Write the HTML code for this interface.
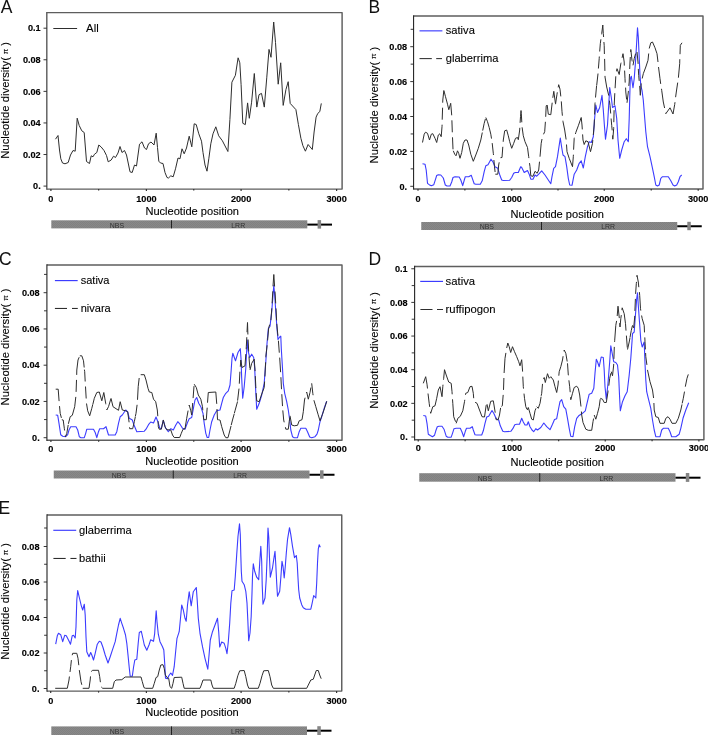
<!DOCTYPE html>
<html><head><meta charset="utf-8"><title>Nucleotide diversity</title>
<style>html,body{margin:0;padding:0;background:#fff;}svg{display:block;}text{font-family:'Liberation Sans', sans-serif;}</style></head><body>
<svg width="708" height="735" viewBox="0 0 708 735">
<defs><pattern id="hatch" width="2" height="2" patternUnits="userSpaceOnUse"><rect width="2" height="2" fill="#898989"/><path d="M0,0 L2,2" stroke="#7c7c7c" stroke-width="0.6"/></pattern></defs>
<rect width="708" height="735" fill="#fff"/>
<path d="M46.8,189.1 L342.1,189.1 L342.1,12.6 L46.8,12.6" fill="none" stroke="#5e5e5e" stroke-width="1.45" stroke-linejoin="round"/>
<line x1="46.8" y1="11.9" x2="46.8" y2="189.8" stroke="#5e5e5e" stroke-width="1.45"/>
<line x1="43.5" y1="186.1" x2="46.8" y2="186.1" stroke="#222" stroke-width="0.9"/>
<text x="40.7" y="189.3" text-anchor="end" font-size="9.9" font-weight="bold" fill="#000" stroke="#000" stroke-width="0.15" textLength="7.63" lengthAdjust="spacingAndGlyphs">0.</text>
<line x1="43.5" y1="154.52" x2="46.8" y2="154.52" stroke="#222" stroke-width="0.9"/>
<text x="40.7" y="157.72" text-anchor="end" font-size="9.9" font-weight="bold" fill="#000" stroke="#000" stroke-width="0.15" textLength="17.81" lengthAdjust="spacingAndGlyphs">0.02</text>
<line x1="43.5" y1="122.94" x2="46.8" y2="122.94" stroke="#222" stroke-width="0.9"/>
<text x="40.7" y="126.14" text-anchor="end" font-size="9.9" font-weight="bold" fill="#000" stroke="#000" stroke-width="0.15" textLength="17.81" lengthAdjust="spacingAndGlyphs">0.04</text>
<line x1="43.5" y1="91.36" x2="46.8" y2="91.36" stroke="#222" stroke-width="0.9"/>
<text x="40.7" y="94.56" text-anchor="end" font-size="9.9" font-weight="bold" fill="#000" stroke="#000" stroke-width="0.15" textLength="17.81" lengthAdjust="spacingAndGlyphs">0.06</text>
<line x1="43.5" y1="59.78" x2="46.8" y2="59.78" stroke="#222" stroke-width="0.9"/>
<text x="40.7" y="62.98" text-anchor="end" font-size="9.9" font-weight="bold" fill="#000" stroke="#000" stroke-width="0.15" textLength="17.81" lengthAdjust="spacingAndGlyphs">0.08</text>
<line x1="43.5" y1="28.2" x2="46.8" y2="28.2" stroke="#222" stroke-width="0.9"/>
<text x="40.7" y="31.4" text-anchor="end" font-size="9.9" font-weight="bold" fill="#000" stroke="#000" stroke-width="0.15" textLength="12.72" lengthAdjust="spacingAndGlyphs">0.1</text>
<line x1="50.9" y1="189.1" x2="50.9" y2="190.9" stroke="#333" stroke-width="1.2"/>
<text x="50.9" y="202" text-anchor="middle" font-size="9.9" font-weight="bold" fill="#000" stroke="#000" stroke-width="0.15" textLength="5.09" lengthAdjust="spacingAndGlyphs">0</text>
<line x1="98.65" y1="189.1" x2="98.65" y2="190.6" stroke="#333" stroke-width="1.2"/>
<line x1="146.4" y1="189.1" x2="146.4" y2="190.9" stroke="#333" stroke-width="1.2"/>
<text x="146.4" y="202" text-anchor="middle" font-size="9.9" font-weight="bold" fill="#000" stroke="#000" stroke-width="0.15" textLength="20.35" lengthAdjust="spacingAndGlyphs">1000</text>
<line x1="193.75" y1="189.1" x2="193.75" y2="190.6" stroke="#333" stroke-width="1.2"/>
<line x1="241.1" y1="189.1" x2="241.1" y2="190.9" stroke="#333" stroke-width="1.2"/>
<text x="241.1" y="202" text-anchor="middle" font-size="9.9" font-weight="bold" fill="#000" stroke="#000" stroke-width="0.15" textLength="20.35" lengthAdjust="spacingAndGlyphs">2000</text>
<line x1="288.85" y1="189.1" x2="288.85" y2="190.6" stroke="#333" stroke-width="1.2"/>
<line x1="336.6" y1="189.1" x2="336.6" y2="190.9" stroke="#333" stroke-width="1.2"/>
<text x="336.6" y="202" text-anchor="middle" font-size="9.9" font-weight="bold" fill="#000" stroke="#000" stroke-width="0.15" textLength="20.35" lengthAdjust="spacingAndGlyphs">3000</text>
<text x="145.39999999999998" y="214.5" font-size="11.4" fill="#000" stroke="#000" stroke-width="0.12" textLength="93.6" lengthAdjust="spacingAndGlyphs">Nucleotide position</text>
<text transform="translate(9.1,158.8) rotate(-90)" font-size="11.3" fill="#000" stroke="#000" stroke-width="0.12">Nucleotide diversity(<tspan font-size="8" dx="2.9" dy="-1.5">π</tspan><tspan dx="2.9" dy="1.5">)</tspan></text>
<text x="0.7" y="12.5" font-size="17.5" fill="#111">A</text>
<line x1="53.3" y1="28.5" x2="77.1" y2="28.5" stroke="#2e2e2e" stroke-width="1.05"/>
<text x="86.1" y="32.0" font-size="11.3" fill="#000" stroke="#000" stroke-width="0.1">All</text>
<rect x="51.3" y="220.3" width="256.0" height="8.1" fill="url(#hatch)"/>
<line x1="307.3" y1="224.6" x2="332" y2="224.6" stroke="#000" stroke-width="2"/>
<rect x="317.6" y="220.1" width="3.5" height="8.5" fill="#858585"/>
<line x1="171.5" y1="220.3" x2="171.5" y2="228.4" stroke="#222" stroke-width="1"/>
<text x="116.9" y="227.6" text-anchor="middle" font-size="7.8" fill="#303030" textLength="14.3" lengthAdjust="spacingAndGlyphs">NBS</text>
<text x="238.20000000000002" y="227.6" text-anchor="middle" font-size="7.8" fill="#303030" textLength="13.9" lengthAdjust="spacingAndGlyphs">LRR</text>
<path d="M55.5,139.2 58,135.5 59.5,150 60.8,158.8 62.5,163 65,163.8 68.2,162.5 70.5,155 73,150.5 75.2,151.2 77.2,118.2 79.2,125.5 81.8,130.8 84.2,132.5 85.2,145 86.5,161.5 89.5,163.5 91.2,155.8 93,156.8 94.5,154.2 96.8,152.5 98.8,145 101.2,147 104,150.5 106.5,155.5 108.2,161.8 111.2,160 113.5,156.2 115.5,157.5 118,153 120,146.5 122,152.5 124.5,150.5 126.5,155 128.2,163 130,171.8 132.2,172.5 134.5,165 136.5,166 138,155 139.5,144.2 142,141.8 144.5,148 146.5,149.5 148.5,143.8 151,142 154,145 156.2,133.2 157.5,147.5 158.8,161.2 160.5,163 163,163.5 165,172.5 167,177.5 168.5,178 170.8,175.8 173.2,176.8 175.5,168.8 178,158 180,158.8 182,148.8 184.2,153.8 186.5,148 189.2,136.2 191.8,146.8 194.2,123.8 196.2,124.5 198.8,133.8 201.5,141.2 203,152.5 205,165 207,171.2 208.8,158.8 210.8,143.8 213,133.8 215.8,126.8 218.7,135.8 222.4,140.8 227.9,151.5 229.9,119.6 231.9,82.2 235.4,75.3 238.1,57.8 239.8,62.8 241.1,84.7 242.8,123.3 245.3,124.6 247.6,102.9 249.3,118.3 251.6,102.2 254.3,73.5 256.8,107.1 259,94.7 261.5,93.4 264.3,107.1 266.8,77.2 269,49.4 271,57.3 273.7,22 275.5,42.4 278.2,84.2 280.7,62.8 283.2,105.4 285.9,89.7 288.2,81.7 290.2,103.4 295.9,109.6 298.4,124.6 300.9,138.3 302.9,145.7 305.4,151.2 308.1,144.5 312.3,149.5 314.1,132 316.1,117.1 317.8,113.4 319.8,111.6 321.3,103.4" fill="none" stroke="#2e2e2e" stroke-width="1.0" stroke-linejoin="round"/>
<path d="M413.55,188.9 L703,188.9 L703,16.0 L413.55,16.0" fill="none" stroke="#5e5e5e" stroke-width="1.45" stroke-linejoin="round"/>
<line x1="413.55" y1="15.3" x2="413.55" y2="189.6" stroke="#2a2a2a" stroke-width="1.15"/>
<line x1="410.25" y1="186.3" x2="413.55" y2="186.3" stroke="#222" stroke-width="0.9"/>
<text x="407.15" y="189.5" text-anchor="end" font-size="9.9" font-weight="bold" fill="#000" stroke="#000" stroke-width="0.15" textLength="7.63" lengthAdjust="spacingAndGlyphs">0.</text>
<line x1="410.65" y1="168.85" x2="413.55" y2="168.85" stroke="#222" stroke-width="0.9"/>
<line x1="410.25" y1="151.4" x2="413.55" y2="151.4" stroke="#222" stroke-width="0.9"/>
<text x="407.15" y="154.6" text-anchor="end" font-size="9.9" font-weight="bold" fill="#000" stroke="#000" stroke-width="0.15" textLength="17.81" lengthAdjust="spacingAndGlyphs">0.02</text>
<line x1="410.65" y1="133.95" x2="413.55" y2="133.95" stroke="#222" stroke-width="0.9"/>
<line x1="410.25" y1="116.5" x2="413.55" y2="116.5" stroke="#222" stroke-width="0.9"/>
<text x="407.15" y="119.7" text-anchor="end" font-size="9.9" font-weight="bold" fill="#000" stroke="#000" stroke-width="0.15" textLength="17.81" lengthAdjust="spacingAndGlyphs">0.04</text>
<line x1="410.65" y1="99.05" x2="413.55" y2="99.05" stroke="#222" stroke-width="0.9"/>
<line x1="410.25" y1="81.6" x2="413.55" y2="81.6" stroke="#222" stroke-width="0.9"/>
<text x="407.15" y="84.8" text-anchor="end" font-size="9.9" font-weight="bold" fill="#000" stroke="#000" stroke-width="0.15" textLength="17.81" lengthAdjust="spacingAndGlyphs">0.06</text>
<line x1="410.65" y1="64.15" x2="413.55" y2="64.15" stroke="#222" stroke-width="0.9"/>
<line x1="410.25" y1="46.7" x2="413.55" y2="46.7" stroke="#222" stroke-width="0.9"/>
<text x="407.15" y="49.9" text-anchor="end" font-size="9.9" font-weight="bold" fill="#000" stroke="#000" stroke-width="0.15" textLength="17.81" lengthAdjust="spacingAndGlyphs">0.08</text>
<line x1="410.65" y1="29.3" x2="413.55" y2="29.3" stroke="#222" stroke-width="0.9"/>
<line x1="418" y1="188.9" x2="418" y2="190.7" stroke="#333" stroke-width="1.2"/>
<text x="418" y="202.4" text-anchor="middle" font-size="9.9" font-weight="bold" fill="#000" stroke="#000" stroke-width="0.15" textLength="5.09" lengthAdjust="spacingAndGlyphs">0</text>
<line x1="464.88" y1="188.9" x2="464.88" y2="190.4" stroke="#333" stroke-width="1.2"/>
<line x1="511.75" y1="188.9" x2="511.75" y2="190.7" stroke="#333" stroke-width="1.2"/>
<text x="511.75" y="202.4" text-anchor="middle" font-size="9.9" font-weight="bold" fill="#000" stroke="#000" stroke-width="0.15" textLength="20.35" lengthAdjust="spacingAndGlyphs">1000</text>
<line x1="558.0" y1="188.9" x2="558.0" y2="190.4" stroke="#333" stroke-width="1.2"/>
<line x1="604.25" y1="188.9" x2="604.25" y2="190.7" stroke="#333" stroke-width="1.2"/>
<text x="604.25" y="202.4" text-anchor="middle" font-size="9.9" font-weight="bold" fill="#000" stroke="#000" stroke-width="0.15" textLength="20.35" lengthAdjust="spacingAndGlyphs">2000</text>
<line x1="651.23" y1="188.9" x2="651.23" y2="190.4" stroke="#333" stroke-width="1.2"/>
<line x1="698.2" y1="188.9" x2="698.2" y2="190.7" stroke="#333" stroke-width="1.2"/>
<text x="698.2" y="202.4" text-anchor="middle" font-size="9.9" font-weight="bold" fill="#000" stroke="#000" stroke-width="0.15" textLength="20.35" lengthAdjust="spacingAndGlyphs">3000</text>
<text x="510.45" y="217.8" font-size="11.4" fill="#000" stroke="#000" stroke-width="0.12" textLength="93.6" lengthAdjust="spacingAndGlyphs">Nucleotide position</text>
<text transform="translate(377.6,163.5) rotate(-90)" font-size="11.3" fill="#000" stroke="#000" stroke-width="0.12">Nucleotide diversity(<tspan font-size="8" dx="2.9" dy="-1.5">π</tspan><tspan dx="2.9" dy="1.5">)</tspan></text>
<text x="368.5" y="12.5" font-size="17.5" fill="#111">B</text>
<line x1="419.5" y1="30.85" x2="442.4" y2="30.85" stroke="#3c3cff" stroke-width="1.15"/>
<text x="445.75" y="34.35" font-size="11.15" fill="#000" stroke="#000" stroke-width="0.1">sativa</text>
<line x1="419.5" y1="58.6" x2="431.8" y2="58.6" stroke="#2e2e2e" stroke-width="1.05"/>
<line x1="436.2" y1="58.6" x2="442" y2="58.6" stroke="#2e2e2e" stroke-width="1.05"/>
<text x="445.75" y="62.1" font-size="11.15" fill="#000" stroke="#000" stroke-width="0.1">glaberrima</text>
<rect x="421.25" y="222" width="256.0" height="8" fill="url(#hatch)"/>
<line x1="677.25" y1="226.25" x2="701.75" y2="226.25" stroke="#000" stroke-width="2"/>
<rect x="687.3" y="221.8" width="3.5" height="8.4" fill="#858585"/>
<line x1="541.5" y1="222" x2="541.5" y2="230" stroke="#222" stroke-width="1"/>
<text x="486.875" y="229.2" text-anchor="middle" font-size="7.8" fill="#303030" textLength="14.3" lengthAdjust="spacingAndGlyphs">NBS</text>
<text x="608.175" y="229.2" text-anchor="middle" font-size="7.8" fill="#303030" textLength="13.9" lengthAdjust="spacingAndGlyphs">LRR</text>
<path d="M422.5,163.7 425,164.2 426.2,170 427.5,183.3 429.2,184.7 431.3,185.8 433.8,184.7 435,180.8 436.7,175.5 438.3,174.7 440.8,175 443.3,178 445.3,185 447,186 450,186 451.7,182 453,177.5 455,176.7 459.2,177 460.8,180 462.7,185.7 464.3,180 465.3,176.7 468.7,176.7 471.3,175.3 472.3,178.3 474.2,183.7 475.8,184.2 480.3,184.2 482.2,180.8 484.2,171.7 485.8,165.8 488,164.7 491,159.2 493,162 495,166.7 497.8,168.3 499.5,174.2 501.7,180 503.3,180.5 509.7,180.3 511.7,177.5 513.7,173.3 515.3,172.5 518.3,172.5 520.7,166.7 521.7,167.5 524.2,172.5 527.5,170.5 529.2,174.2 530.8,179.2 533,179.2 535,175 536.7,176.2 538.7,174.2 541.7,170.8 545,175 548.3,180 550.8,183.7 552,176.7 553.7,168.3 555.5,166.7 557.5,156.7 560.3,138 561.7,147.5 563,155 565,156.7 566.7,166.7 568.3,178.3 569.7,185 572,185.3 574.2,174.2 576.7,170 579.2,163.3 581.2,160.8 583.3,168 585.3,156.7 587.5,146.7 589.2,141.7 591.3,142.5 593.3,136.7 594.5,120 595.8,105 597.5,112.5 599.7,107.5 602,95.3 603.3,110 604.5,126.7 605.5,139.2 607.5,125 609.2,96.7 609.7,87.5 611.3,97.5 612.5,107.5 615,105.8 616.7,118.3 618,140 619.7,158.3 621.7,150 624.2,141.7 626.3,138.7 628.3,141.7 629.2,118.7 629.7,98.7 630.3,78.7 631.3,76.2 633,87.8 634.2,78.7 635.5,62 636.7,42 637.5,27.8 638.3,37 639.2,57 640,75.3 640.8,85.3 642,90.3 643.3,100.3 644.2,111.7 645.8,131.7 647.5,146.7 650,156.7 652.5,168.3 654.2,176.7 655.8,185 657.5,186 659.2,185 660.8,178.3 662.5,176.7 668.3,176.7 670.8,180.8 673,185 674.7,186 676.7,185 678.3,181.7 680,176.7 681.7,175" fill="none" stroke="#3c3cff" stroke-width="1.1" stroke-linejoin="round"/>
<path d="M422.5,142.5 424.2,134.2 425.5,132.2 427.5,133.3 429.5,140 431.3,134.2 432.8,133.7 435,138.3 436.7,142.5 438.3,135 439.7,133.8 441.2,136.7 442,126.7 442.1,124.7 M442.2,119.7 442.6,107.7 M442.7,102.7 442.8,100 443.8,90.8 M443.8,90.3 445.5,96.7 447.5,104.2 448.8,109.7 450.7,103.3 451.7,115 451.7,115.3 M451.9,120.3 452.3,132.3 M452.5,137.3 453,149.3 M453.3,150.8 454.7,154.2 456,155.8 457.5,150.8 458.7,153.3 460,158.3 461.7,152.5 463.3,143.3 465,140 467,140 468.7,145 470.8,154.2 473.3,161.3 475.8,155 478.3,148.3 480.8,140 482.3,132.5 M482.7,130.6 484.2,123.3 485.4,119 M485.8,117.5 487.5,121.7 489.2,127.5 490.8,134.2 491.5,138.6 M492.2,143.1 493.3,153.3 493.5,155 M493.9,160 494.5,166.7 495.1,172 M495.3,174.2 497.8,174.2 498.7,165 499.2,162.3 M500.5,157.7 502,157.5 502.8,146.8 M503.2,141.8 503.3,140 504.7,130.8 506.7,130 508.3,135.8 509.7,141.7 511.7,148.3 513.7,143.3 515.5,138.3 517.5,137.5 518.3,139.7 519.7,130 519.8,127.8 M520.1,122.8 520.5,116.7 521,110.8 M521,110.3 521.3,113.7 521.8,122.3 M522.1,127.3 523.3,135.8 525,141.7 527.5,147.5 528.7,156.7 528.9,158.1 M529.5,163.1 530,166.7 530.8,175.8 533,176.3 535,171.3 537.2,173.3 538.7,170 539.5,161.7 M540,156.7 540,156.7 541.2,143.3 542,139 M543.5,134.3 544.7,131.7 545.4,121.8 M545.7,116.8 546.2,105.8 547,105.2 M547.2,105 548.3,114.2 550.8,114.7 552.2,102.7 M552.8,97.8 553.8,91.3 555.4,103.2 M555.5,104.2 557,94.2 557.3,92.3 M558.2,87.4 558.7,84.7 560,89.2 560.8,96.4 M561.3,101.4 562,111.7 562.4,115.7 M562.9,120.7 563,121.7 564.7,130 566.1,139.5 M566.5,144.5 567,151.7 569.2,158.3 572.5,166.7 573.3,156.7 573.4,154.7 M573.6,149.7 574.2,138.3 574.3,137.7 M575.4,134 575.8,132.5 578.3,125.8 581.2,117.5 582,125 582.3,129.4 M582.6,134.4 583,140 584.2,144.5 585.8,140.8 588,141.7 590.5,151.7 592.5,143.3 592.8,139.9 M593.3,134.9 594.2,125 594.4,119.5 M594.6,114.5 595,103.3 595.1,102.5 M595.5,97.5 596.6,85.6 M596.7,85.4 596.7,85.3 598,73.7 598,73.5 M598.4,68.5 599.2,58.7 599.3,56.5 M599.7,51.5 600.3,43.7 600.9,39.3 M601.6,34.3 601.7,33.7 602.8,25 603.3,33.7 603.6,37 M603.9,42 604.2,45.3 604.4,54 M604.6,58.9 604.7,62 604.9,70.9 M605,75.9 605,77 606.7,87 608.7,95.3 608.7,95.7 M609.4,100.6 610,105.3 610.7,113.5 M611.1,118.5 611.7,125.3 612.2,130.4 M612.6,135.4 612.8,139.2 613.7,128.3 613.7,127.2 M613.8,122.2 614.1,110.2 M614.2,105.2 614.8,93.2 M615.1,88.2 615.8,76.3 M616.5,71.3 617,68.7 619.2,74.5 620.8,63.7 621.1,62.7 M622.1,57.8 623,53.7 624.2,62 624.3,65.6 M624.6,70.6 625,78.7 625.2,82.6 M625.6,87.6 625.8,92 626.6,99.5 M627,102.8 628.3,92 628.4,90.9 M628.8,85.9 629.2,82 629.5,74 M629.7,69 630,62 630.3,57 M630.7,52 630.8,49.5 632,60.3 632.2,61.4 M633,65.3 634.2,58.7 635.6,53.6 M637,52 638,62 638.1,63.9 M638.3,68.9 638.7,75.3 639.2,80.9 M639.7,85.9 640.3,95.3 641.2,83.4 M642.2,78.5 643.3,73.7 645.8,67 648,60.3 648.7,53.5 M649.2,48.5 650.8,42.8 652.5,42 655,47.8 657,53.7 658,62 M658.5,67 660,78.7 660.7,83.9 M661.5,88.8 661.7,90.3 663.3,102 664.6,108 M665.7,112.8 665.8,113.7 670,107.8 673,114 674.7,104.5 675,102.2 M675.6,97.2 676.3,92 677.7,82.6 M678.4,77.7 679.7,63.7 679.8,59.2 M680,54.2 680.3,45.3 682,42.8" fill="none" stroke="#2e2e2e" stroke-width="1.0" stroke-linejoin="round"/>
<path d="M46.9,440.2 L342,440.2 L342,265 L46.9,265" fill="none" stroke="#5e5e5e" stroke-width="1.45" stroke-linejoin="round"/>
<line x1="46.9" y1="264.3" x2="46.9" y2="440.9" stroke="#2a2a2a" stroke-width="1.15"/>
<line x1="43.6" y1="437.7" x2="46.9" y2="437.7" stroke="#222" stroke-width="0.9"/>
<text x="39.7" y="440.9" text-anchor="end" font-size="9.9" font-weight="bold" fill="#000" stroke="#000" stroke-width="0.15" textLength="7.63" lengthAdjust="spacingAndGlyphs">0.</text>
<line x1="44.0" y1="419.57" x2="46.9" y2="419.57" stroke="#222" stroke-width="0.9"/>
<line x1="43.6" y1="401.45" x2="46.9" y2="401.45" stroke="#222" stroke-width="0.9"/>
<text x="39.7" y="404.65" text-anchor="end" font-size="9.9" font-weight="bold" fill="#000" stroke="#000" stroke-width="0.15" textLength="17.81" lengthAdjust="spacingAndGlyphs">0.02</text>
<line x1="44.0" y1="383.32" x2="46.9" y2="383.32" stroke="#222" stroke-width="0.9"/>
<line x1="43.6" y1="365.2" x2="46.9" y2="365.2" stroke="#222" stroke-width="0.9"/>
<text x="39.7" y="368.4" text-anchor="end" font-size="9.9" font-weight="bold" fill="#000" stroke="#000" stroke-width="0.15" textLength="17.81" lengthAdjust="spacingAndGlyphs">0.04</text>
<line x1="44.0" y1="347.07" x2="46.9" y2="347.07" stroke="#222" stroke-width="0.9"/>
<line x1="43.6" y1="328.95" x2="46.9" y2="328.95" stroke="#222" stroke-width="0.9"/>
<text x="39.7" y="332.15" text-anchor="end" font-size="9.9" font-weight="bold" fill="#000" stroke="#000" stroke-width="0.15" textLength="17.81" lengthAdjust="spacingAndGlyphs">0.06</text>
<line x1="44.0" y1="310.82" x2="46.9" y2="310.82" stroke="#222" stroke-width="0.9"/>
<line x1="43.6" y1="292.7" x2="46.9" y2="292.7" stroke="#222" stroke-width="0.9"/>
<text x="39.7" y="295.9" text-anchor="end" font-size="9.9" font-weight="bold" fill="#000" stroke="#000" stroke-width="0.15" textLength="17.81" lengthAdjust="spacingAndGlyphs">0.08</text>
<line x1="44.0" y1="274.4" x2="46.9" y2="274.4" stroke="#222" stroke-width="0.9"/>
<line x1="50.9" y1="440.2" x2="50.9" y2="442.0" stroke="#333" stroke-width="1.2"/>
<text x="50.9" y="452" text-anchor="middle" font-size="9.9" font-weight="bold" fill="#000" stroke="#000" stroke-width="0.15" textLength="5.09" lengthAdjust="spacingAndGlyphs">0</text>
<line x1="98.65" y1="440.2" x2="98.65" y2="441.7" stroke="#333" stroke-width="1.2"/>
<line x1="146.4" y1="440.2" x2="146.4" y2="442.0" stroke="#333" stroke-width="1.2"/>
<text x="146.4" y="452" text-anchor="middle" font-size="9.9" font-weight="bold" fill="#000" stroke="#000" stroke-width="0.15" textLength="20.35" lengthAdjust="spacingAndGlyphs">1000</text>
<line x1="193.75" y1="440.2" x2="193.75" y2="441.7" stroke="#333" stroke-width="1.2"/>
<line x1="241.1" y1="440.2" x2="241.1" y2="442.0" stroke="#333" stroke-width="1.2"/>
<text x="241.1" y="452" text-anchor="middle" font-size="9.9" font-weight="bold" fill="#000" stroke="#000" stroke-width="0.15" textLength="20.35" lengthAdjust="spacingAndGlyphs">2000</text>
<line x1="288.85" y1="440.2" x2="288.85" y2="441.7" stroke="#333" stroke-width="1.2"/>
<line x1="336.6" y1="440.2" x2="336.6" y2="442.0" stroke="#333" stroke-width="1.2"/>
<text x="336.6" y="452" text-anchor="middle" font-size="9.9" font-weight="bold" fill="#000" stroke="#000" stroke-width="0.15" textLength="20.35" lengthAdjust="spacingAndGlyphs">3000</text>
<text x="145.2" y="464.55" font-size="11.4" fill="#000" stroke="#000" stroke-width="0.12" textLength="93.6" lengthAdjust="spacingAndGlyphs">Nucleotide position</text>
<text transform="translate(9.1,405.40000000000003) rotate(-90)" font-size="11.3" fill="#000" stroke="#000" stroke-width="0.12">Nucleotide diversity(<tspan font-size="8" dx="2.9" dy="-1.5">π</tspan><tspan dx="2.9" dy="1.5">)</tspan></text>
<text x="-1.1" y="265.4" font-size="17.5" fill="#111">C</text>
<line x1="54.9" y1="280.6" x2="77.7" y2="280.6" stroke="#3c3cff" stroke-width="1.15"/>
<text x="80.75" y="284.1" font-size="11.0" fill="#000" stroke="#000" stroke-width="0.1">sativa</text>
<line x1="54.9" y1="308.45" x2="67" y2="308.45" stroke="#2e2e2e" stroke-width="1.05"/>
<line x1="72" y1="308.45" x2="77.8" y2="308.45" stroke="#2e2e2e" stroke-width="1.05"/>
<text x="80.75" y="311.95" font-size="11.0" fill="#000" stroke="#000" stroke-width="0.1">nivara</text>
<rect x="53.75" y="470.5" width="255.75" height="8.0" fill="url(#hatch)"/>
<line x1="309.5" y1="474.75" x2="334.5" y2="474.75" stroke="#000" stroke-width="2"/>
<rect x="320.05" y="470.3" width="3.5" height="8.4" fill="#858585"/>
<line x1="173.25" y1="470.5" x2="173.25" y2="478.5" stroke="#222" stroke-width="1"/>
<text x="119.0" y="477.7" text-anchor="middle" font-size="7.8" fill="#303030" textLength="14.3" lengthAdjust="spacingAndGlyphs">NBS</text>
<text x="240.175" y="477.7" text-anchor="middle" font-size="7.8" fill="#303030" textLength="13.9" lengthAdjust="spacingAndGlyphs">LRR</text>
<path d="M55.7,415 57.7,415.3 59,423.3 60.7,434.7 62.7,436.2 65.7,436.7 67.7,434.7 69,430 70.7,426.7 76,426.7 77.7,430 79.3,436.7 81,437.7 84.3,437.7 85.7,433.3 86.8,429.2 93.5,429.2 95.2,432.5 96.8,437.7 98.5,431.7 99.7,428.7 103.5,428.7 106,426.7 107,430 108.5,435 115.2,435 116.8,431.7 118.5,423.3 120.2,416.7 122.3,415 125.7,410 127.7,412 129.3,418.3 132.3,420 134,425 136.8,431.7 144.3,431.2 146,429.2 148.5,424.7 150.7,422 153.5,423 156,417 158,422 159.7,428 161.3,428.7 163.3,420.3 165.3,427.5 168.3,431.7 170.8,428.7 173.3,430 175.8,425 177.8,421.7 180,424.2 182.5,428.3 185,429.2 187.5,422.5 189.2,418.7 191.7,417.5 193.7,406.7 195,400 196.7,397.5 198.7,403.3 200.8,406.7 203,413.3 204.2,423.3 205.8,433.3 207.2,437.5 208.7,437.5 210,430 211.7,421.7 214.2,415 216.7,410.8 220,410 221.7,403.3 223.3,397.5 225.8,393.3 228.3,390.8 230,385 231.2,370 232,358.3 232.8,353.3 235.5,360.8 238,352.5 240.3,348.7 241,358.3 241.7,378.3 242.7,398.3 244.2,386.7 245.8,368.3 247.2,340 248.3,351.7 249.7,357.5 251.7,354.2 253.7,357.5 254.7,368.3 255.5,386.7 256.7,409.2 259.2,403.3 261.7,395 264.2,383.3 265.8,361.7 267,343.7 268.3,328.7 270,326.2 271.7,312 273,295.3 273.8,285.3 274.7,295.3 275.8,312 277,328.7 278,339.5 279.7,337 280.8,336.2 281.3,348.7 282.5,368.3 283.3,383.3 284.7,393.3 286.7,401.7 288.3,410 289.7,420 290.8,430 292.5,436.7 294.2,437.7 297.5,437.7 299.2,431.7 300.8,428.3 305.8,428.3 307.5,431.7 309.7,437 311.7,437.7 315,436.7 317,434.2 318.3,430 320,421.7 321.7,416.7 324.2,408.3 326.7,401.3" fill="none" stroke="#3c3cff" stroke-width="1.1" stroke-linejoin="round"/>
<path d="M55.7,389.2 58.2,389.2 59,400 59.1,401.1 M59.5,406.1 60.2,413.3 61.4,417.9 M61.8,419.7 63.2,420 64.3,428.3 64.6,430.5 M65.3,435.5 65.5,436.7 66.8,433.3 68.2,425 M68.4,424.1 68.5,423.3 70.2,416.7 72.3,415.3 74.7,406.7 75.8,396.9 M76.1,391.9 76.5,379.9 M76.7,374.9 76.8,370 78,360 79.2,357.2 M79.8,355.8 81.8,355.8 83.5,360.8 84.2,367.5 M84.4,369.6 84.7,371.7 85.2,381.5 M85.5,386.5 85.7,390 86.2,398.5 M86.5,403.5 87.7,410.8 89.7,415.8 91.8,408.3 92.8,404.3 M92.9,404.1 94.3,398.3 96.8,392.5 99.3,392 101.8,400.8 103.8,392.5 105.7,403.3 105.8,404.3 M106.7,409.3 106.8,410 108.5,406.7 110.9,398.7 M111,398.3 113,406.7 116,408.7 118.5,410.3 120.2,401.7 122.3,410 125.7,410.8 127.7,411.7 128.8,420 129.1,422.3 M129.5,427.3 129.7,428.7 132.7,428.7 134.3,421.7 135.3,417 M135.3,416.6 136,413.3 137.1,404.8 M137.5,399.8 138.2,386.7 139.2,378 M140.7,374.7 144.3,374.7 146,380 148,388.3 149.3,392 151.8,392.5 153.5,399.2 155.7,401.7 157.3,410 157.8,416.2 M158.1,421.2 158.3,426.7 159.2,429.2 161.3,429.2 163.3,420 165,426.7 166.7,429.7 170.8,430 172.5,435 174.2,437.5 179.7,437.5 181.3,433.3 183,429.2 185,428.7 186.7,418.3 188.1,410.6 M189,405.7 189.2,405 190.8,410.8 191.7,415 192.7,403 M193.1,398.1 194,386.1 M194.2,384.2 196.3,387.5 198.3,395 200.8,399.2 202.5,406.7 202.8,410.3 M203.3,415.3 203.7,419.7 206.3,419.7 207.2,407.7 M207.5,402.7 208.3,392.5 215.8,392 216.7,403.3 216.7,404 M217,409 217.5,419.7 218.8,419.8 M219.2,419.9 220,420 221.7,426.7 224.2,435 225.8,437.7 228,437.7 230,430 231,426 M231.2,425.2 232.5,420 234.3,413.6 M234.4,413 235,410.8 237.5,401.7 237.5,401.4 M237.6,400.6 239,388.6 M239.3,383.7 239.9,371.7 M240.3,366.7 240.8,360 242,367.5 245,365.8 245.8,354.1 M246.2,349.2 246.3,346.7 246.8,337.2 M247,332.2 247.5,322.5 247.9,334.5 M248.1,339.5 248.7,351.5 M249,356.5 249.2,360 249.9,368.4 M250,370 251.7,363.3 254.2,359.2 255,370 255.1,371.1 M255.3,376.1 255.8,386.7 255.9,388.1 M256.2,393.1 256.7,400.8 259.2,401.7 260.8,396.7 262.5,392 264.2,387.5 264.6,381.5 M264.9,376.5 265,375 265.6,362.3 M265.8,357.3 265.8,356.7 267.1,345.3 M267.6,340.4 268.7,327.8 269.7,324.6 M270.9,320.2 271.8,308.3 M272.1,303.3 272.8,291.3 M273,286.3 273.8,274.5 274.6,286.5 M275,291.5 275.7,303.4 M276,308.4 276.6,320.4 M276.8,323.8 277.9,335.7 M278.4,340.7 279.3,352.7 M279.7,357.6 280.6,372.2 M280.9,377.2 281.5,389.2 M281.8,394.2 282.5,406.1 M282.8,410.4 283.7,420 284.2,422.3 M285.4,427.2 285.8,429.2 288.3,429.2 289.2,421.7 289.8,417.3 M290,415.8 291.7,425 294.2,425.8 297.5,425.3 299.2,420.8 302,419.7 303.3,411.7 304.5,400 305.1,397.7 M306.4,392.8 306.7,392 308.3,399.2 310,392.5 310.9,387.5 M311.7,383.3 312.8,393.3 313.1,395.2 M313.9,400.2 315.8,406.7 318,414.2 320,420.8 322.5,414.2 325,406.7 326.7,401.3" fill="none" stroke="#2e2e2e" stroke-width="1.0" stroke-linejoin="round"/>
<path d="M414.6,439.7 L703.9,439.7 L703.9,266.4 L414.6,266.4" fill="none" stroke="#5e5e5e" stroke-width="1.45" stroke-linejoin="round"/>
<line x1="414.6" y1="265.7" x2="414.6" y2="440.4" stroke="#2a2a2a" stroke-width="1.15"/>
<line x1="411.3" y1="437.0" x2="414.6" y2="437.0" stroke="#222" stroke-width="0.9"/>
<text x="407.7" y="440.2" text-anchor="end" font-size="9.9" font-weight="bold" fill="#000" stroke="#000" stroke-width="0.15" textLength="7.63" lengthAdjust="spacingAndGlyphs">0.</text>
<line x1="411.7" y1="420.18" x2="414.6" y2="420.18" stroke="#222" stroke-width="0.9"/>
<line x1="411.3" y1="403.35" x2="414.6" y2="403.35" stroke="#222" stroke-width="0.9"/>
<text x="407.7" y="406.55" text-anchor="end" font-size="9.9" font-weight="bold" fill="#000" stroke="#000" stroke-width="0.15" textLength="17.81" lengthAdjust="spacingAndGlyphs">0.02</text>
<line x1="411.7" y1="386.52" x2="414.6" y2="386.52" stroke="#222" stroke-width="0.9"/>
<line x1="411.3" y1="369.7" x2="414.6" y2="369.7" stroke="#222" stroke-width="0.9"/>
<text x="407.7" y="372.9" text-anchor="end" font-size="9.9" font-weight="bold" fill="#000" stroke="#000" stroke-width="0.15" textLength="17.81" lengthAdjust="spacingAndGlyphs">0.04</text>
<line x1="411.7" y1="352.88" x2="414.6" y2="352.88" stroke="#222" stroke-width="0.9"/>
<line x1="411.3" y1="336.05" x2="414.6" y2="336.05" stroke="#222" stroke-width="0.9"/>
<text x="407.7" y="339.25" text-anchor="end" font-size="9.9" font-weight="bold" fill="#000" stroke="#000" stroke-width="0.15" textLength="17.81" lengthAdjust="spacingAndGlyphs">0.06</text>
<line x1="411.7" y1="319.23" x2="414.6" y2="319.23" stroke="#222" stroke-width="0.9"/>
<line x1="411.3" y1="302.4" x2="414.6" y2="302.4" stroke="#222" stroke-width="0.9"/>
<text x="407.7" y="305.6" text-anchor="end" font-size="9.9" font-weight="bold" fill="#000" stroke="#000" stroke-width="0.15" textLength="17.81" lengthAdjust="spacingAndGlyphs">0.08</text>
<line x1="411.7" y1="285.58" x2="414.6" y2="285.58" stroke="#222" stroke-width="0.9"/>
<line x1="411.3" y1="268.75" x2="414.6" y2="268.75" stroke="#222" stroke-width="0.9"/>
<text x="407.7" y="271.95" text-anchor="end" font-size="9.9" font-weight="bold" fill="#000" stroke="#000" stroke-width="0.15" textLength="12.72" lengthAdjust="spacingAndGlyphs">0.1</text>
<line x1="418.25" y1="439.7" x2="418.25" y2="441.5" stroke="#333" stroke-width="1.2"/>
<text x="418.25" y="450.7" text-anchor="middle" font-size="9.9" font-weight="bold" fill="#000" stroke="#000" stroke-width="0.15" textLength="5.09" lengthAdjust="spacingAndGlyphs">0</text>
<line x1="465.12" y1="439.7" x2="465.12" y2="441.2" stroke="#333" stroke-width="1.2"/>
<line x1="512" y1="439.7" x2="512" y2="441.5" stroke="#333" stroke-width="1.2"/>
<text x="512" y="450.7" text-anchor="middle" font-size="9.9" font-weight="bold" fill="#000" stroke="#000" stroke-width="0.15" textLength="20.35" lengthAdjust="spacingAndGlyphs">1000</text>
<line x1="558.62" y1="439.7" x2="558.62" y2="441.2" stroke="#333" stroke-width="1.2"/>
<line x1="605.25" y1="439.7" x2="605.25" y2="441.5" stroke="#333" stroke-width="1.2"/>
<text x="605.25" y="450.7" text-anchor="middle" font-size="9.9" font-weight="bold" fill="#000" stroke="#000" stroke-width="0.15" textLength="20.35" lengthAdjust="spacingAndGlyphs">2000</text>
<line x1="652.08" y1="439.7" x2="652.08" y2="441.2" stroke="#333" stroke-width="1.2"/>
<line x1="698.9" y1="439.7" x2="698.9" y2="441.5" stroke="#333" stroke-width="1.2"/>
<text x="698.9" y="450.7" text-anchor="middle" font-size="9.9" font-weight="bold" fill="#000" stroke="#000" stroke-width="0.15" textLength="20.35" lengthAdjust="spacingAndGlyphs">3000</text>
<text x="510.45" y="465.8" font-size="11.4" fill="#000" stroke="#000" stroke-width="0.12" textLength="93.6" lengthAdjust="spacingAndGlyphs">Nucleotide position</text>
<text transform="translate(377.6,408.8) rotate(-90)" font-size="11.3" fill="#000" stroke="#000" stroke-width="0.12">Nucleotide diversity(<tspan font-size="8" dx="2.9" dy="-1.5">π</tspan><tspan dx="2.9" dy="1.5">)</tspan></text>
<text x="368.4" y="265" font-size="17.5" fill="#111">D</text>
<line x1="420.2" y1="281.4" x2="443" y2="281.4" stroke="#3c3cff" stroke-width="1.15"/>
<text x="445.6" y="284.9" font-size="11.3" fill="#000" stroke="#000" stroke-width="0.1">sativa</text>
<line x1="420.4" y1="309.5" x2="432.5" y2="309.5" stroke="#2e2e2e" stroke-width="1.05"/>
<line x1="437" y1="309.5" x2="443" y2="309.5" stroke="#2e2e2e" stroke-width="1.05"/>
<text x="445.6" y="313.0" font-size="11.3" fill="#000" stroke="#000" stroke-width="0.1">ruffipogon</text>
<rect x="419.25" y="473.2" width="256.25" height="8.5" fill="url(#hatch)"/>
<line x1="675.5" y1="477.7" x2="700.5" y2="477.7" stroke="#000" stroke-width="2"/>
<rect x="685.8" y="473.0" width="3.5" height="8.9" fill="#858585"/>
<line x1="539.75" y1="473.2" x2="539.75" y2="481.7" stroke="#222" stroke-width="1"/>
<text x="485.0" y="480.9" text-anchor="middle" font-size="7.8" fill="#303030" textLength="14.3" lengthAdjust="spacingAndGlyphs">NBS</text>
<text x="606.425" y="480.9" text-anchor="middle" font-size="7.8" fill="#303030" textLength="13.9" lengthAdjust="spacingAndGlyphs">LRR</text>
<path d="M423.3,415.5 425.7,416 427,423.3 428.3,434.2 430.3,435.5 432.5,436.7 434.5,435.3 435.8,430.8 437.3,426.7 439,426.2 442,426.3 444,429.2 446.2,436.2 447.8,437.2 451.2,437.2 452.5,433.3 454,428.7 456.2,428.3 460.3,428.3 462,432 463.7,436.7 465.3,431.3 466.5,428.3 470,428.3 472.3,426.7 473.3,430 475,434.7 476.7,435 481.7,435 483.3,430.8 485,423.3 486.7,417 488.7,416.2 492,410.5 494,413.7 496.2,418.7 498.7,420 500.3,425.8 502.8,431.3 504.5,431.7 510.8,431.3 512.8,428.7 514.8,424.7 516.7,424.2 519.5,424.2 521.7,418.3 523.3,422 525,425 527,425 528.3,421.7 530,426.7 532,430 533.7,431.7 535.8,428.7 537.5,430 540.8,427.5 543.8,423 546.7,426.7 550,429.7 552.5,424.2 554.5,419.5 556.7,418.7 558.3,410 560,401.7 561.7,399.7 563.7,406.7 565.8,409.2 567.5,418.3 569.2,428.3 570.8,436.3 573,436.7 574.7,426.7 576.7,418.3 578.7,415.8 582.5,413.3 585.3,410.8 587,403.3 589.2,394.2 591.7,393.3 593.8,388.3 595,373.3 596.3,359.2 597.5,361.7 599.2,366.7 601.2,357 603.3,357.5 604.2,370 605,386.7 606.3,399.2 608,383.3 609.7,361.7 610.8,345.8 612.2,353.3 613.7,361.7 615.8,362.5 617.5,365 618.7,376.7 619.5,395 620.3,410.8 622.5,401.7 625,395.8 627.2,391.7 629.2,375 630.8,358.3 632,341.7 632.5,333.7 634.2,332 635.3,317 636.7,298.7 637.5,292.8 638.3,305.3 639.5,322 640.8,340.3 642.2,347 644.2,342 645,363.3 645.8,380 646.7,391.7 648.3,398.3 650.8,408.3 652.5,420 654.2,430 655.8,436.7 660,436.7 661.7,430 663.3,428.3 668.3,428.3 670,431.7 671.7,436.7 675.8,436.7 679.2,434.2 680.8,428.3 683,418.3 685.8,410 688.7,402.8" fill="none" stroke="#3c3cff" stroke-width="1.1" stroke-linejoin="round"/>
<path d="M423.3,383.3 425.7,376.7 427,384.2 427.5,388.5 M428,393.5 428.2,395 429.2,403.3 429.7,406.9 M430.4,411.8 430.7,413.3 432.8,406.7 435,405.8 436.7,398.3 438.3,390 440,386.7 442,396.7 442.8,386.7 443,384.7 M443.5,379.7 443.7,378.3 444.5,369.7 446.2,375 448.7,382 451.2,383.3 452,391.7 452.2,394.3 M452.5,399.3 452.8,403.3 453.7,416.7 455.6,421.7 M456.2,423.3 457.8,418.3 460.3,416.3 462.8,410.8 464.5,401.7 464.8,399.8 M465.5,394.8 465.7,393.3 467.8,392.5 470,386.7 472,386.3 473.3,393.3 473.7,398.2 M475.1,402.3 477,403.3 479.5,410 482,416.7 484.5,417 486.2,405.1 M487,404.2 488.3,410.8 490.7,401.3 493.3,400.8 494.8,410 495.2,412.7 M495.9,417.6 496.2,419.7 498.2,419.7 499.5,415 500.6,407.9 M501.4,406.4 502.3,405.8 503.2,394.9 M503.5,389.9 503.9,378 M504.1,373 505,358.3 505.9,352.9 M506.7,348 507.8,343 509.2,346.7 510.7,352.5 512.5,346.7 514.5,351.7 516.7,356.7 518.7,361.7 520,365.8 521.7,359.7 522.5,370 522.6,371.6 M522.8,376.6 523.3,386.7 523.5,388.6 M524,393.6 524.5,398.3 525.8,406.7 526.9,409.2 M527.2,410 528.3,407.5 530,413.3 531.7,419.2 533.3,420 535,410.8 536,408.3 M536.7,406.7 538.3,408.3 540,403.3 541.1,396.7 M541.2,395.8 541.7,393.3 542.5,383.9 M543.5,379.1 544.2,377.5 545.3,382.5 547.5,373.7 549.2,378.3 550.8,376.7 553.3,380 555,386.7 556.7,392.5 558,385 558.4,380.6 M558.8,375.7 559.2,371.7 560.8,366.7 562.5,360 563.1,356.2 M564,351.3 564.2,350 565.8,353.3 567.2,361.5 M567.5,363.3 568.3,375 568.4,375.3 M568.9,380.3 569.7,386.7 570.2,392.2 M570.6,397.2 570.8,399.7 572.5,393.3 574.2,387.5 576.7,386.2 578.3,388.3 579.7,395 580.8,405 581,406.5 M581.4,411.5 581.7,415 583,422.5 585.8,429.2 588.3,430.3 591.7,430.3 593,421.7 593.6,418.5 M594.2,415 595.8,419.2 597.5,413.3 599.2,406.7 600.2,399.2 M600.3,398.3 602.5,399.2 604.2,402.5 606.3,402.5 608,391.7 608.1,390.6 M608.8,385.7 609.7,378.3 610.9,373.2 M611.3,371.7 612.5,375.8 613.7,365 613.7,363.9 M613.9,358.9 614.2,350 614.3,346.9 M614.6,341.9 614.7,340.3 615.8,325.3 616.6,320.9 M617.2,316 618,306.2 619.2,317 619.3,318.1 M619.7,323.1 620,327 620.8,318.7 621.3,315.1 M621.9,310.1 622.2,307.8 624.2,313.7 625.5,323.7 626,330.6 M626.4,335.6 627.3,347.6 M627.5,349.5 629.2,342 630,337.8 M630,337.5 631.3,330.3 632.4,325.8 M632.5,325.3 633.7,327.8 634.7,317 634.7,315.9 M634.9,310.9 635.4,298.9 M635.6,293.9 636.3,283.7 636.5,281.9 M636.9,276.9 637,275.3 638.3,282 638.8,287.2 M639.4,292.1 639.7,295.3 640.5,308.7 640.8,310.6 M641.6,315.5 642.2,318.7 644.2,325.3 644.5,332.4 M644.8,337.4 645,341.7 645.4,349.4 M645.6,353 645.8,356.7 646.9,364.9 M647.5,369.9 647.5,370 650,381.7 652.5,390 653.6,398 M653.9,403 654.2,410 655.8,416.7 658.3,417.5 660,423.3 664.2,423.3 665.8,418.3 668,416.7 670,419.2 672,423.3 675.8,423.3 678.3,418.3 680.8,410 682,404.4 M682.2,403.4 683.3,398.3 684.5,391.6 M685.3,386.7 687,378.3 688.3,374.4" fill="none" stroke="#2e2e2e" stroke-width="1.0" stroke-linejoin="round"/>
<path d="M47,691.1 L341.75,691.1 L341.75,515 L47,515" fill="none" stroke="#5e5e5e" stroke-width="1.45" stroke-linejoin="round"/>
<line x1="47" y1="514.3" x2="47" y2="691.8" stroke="#2a2a2a" stroke-width="1.15"/>
<line x1="43.7" y1="688.5" x2="47" y2="688.5" stroke="#222" stroke-width="0.9"/>
<text x="39.5" y="691.7" text-anchor="end" font-size="9.9" font-weight="bold" fill="#000" stroke="#000" stroke-width="0.15" textLength="7.63" lengthAdjust="spacingAndGlyphs">0.</text>
<line x1="44.1" y1="670.75" x2="47" y2="670.75" stroke="#222" stroke-width="0.9"/>
<line x1="43.7" y1="653.0" x2="47" y2="653.0" stroke="#222" stroke-width="0.9"/>
<text x="39.5" y="656.2" text-anchor="end" font-size="9.9" font-weight="bold" fill="#000" stroke="#000" stroke-width="0.15" textLength="17.81" lengthAdjust="spacingAndGlyphs">0.02</text>
<line x1="44.1" y1="635.25" x2="47" y2="635.25" stroke="#222" stroke-width="0.9"/>
<line x1="43.7" y1="617.5" x2="47" y2="617.5" stroke="#222" stroke-width="0.9"/>
<text x="39.5" y="620.7" text-anchor="end" font-size="9.9" font-weight="bold" fill="#000" stroke="#000" stroke-width="0.15" textLength="17.81" lengthAdjust="spacingAndGlyphs">0.04</text>
<line x1="44.1" y1="599.75" x2="47" y2="599.75" stroke="#222" stroke-width="0.9"/>
<line x1="43.7" y1="582.0" x2="47" y2="582.0" stroke="#222" stroke-width="0.9"/>
<text x="39.5" y="585.2" text-anchor="end" font-size="9.9" font-weight="bold" fill="#000" stroke="#000" stroke-width="0.15" textLength="17.81" lengthAdjust="spacingAndGlyphs">0.06</text>
<line x1="44.1" y1="564.25" x2="47" y2="564.25" stroke="#222" stroke-width="0.9"/>
<line x1="43.7" y1="546.5" x2="47" y2="546.5" stroke="#222" stroke-width="0.9"/>
<text x="39.5" y="549.7" text-anchor="end" font-size="9.9" font-weight="bold" fill="#000" stroke="#000" stroke-width="0.15" textLength="17.81" lengthAdjust="spacingAndGlyphs">0.08</text>
<line x1="44.1" y1="528" x2="47" y2="528" stroke="#222" stroke-width="0.9"/>
<line x1="50.7" y1="691.1" x2="50.7" y2="692.9" stroke="#333" stroke-width="1.2"/>
<text x="50.7" y="703.8" text-anchor="middle" font-size="9.9" font-weight="bold" fill="#000" stroke="#000" stroke-width="0.15" textLength="5.09" lengthAdjust="spacingAndGlyphs">0</text>
<line x1="98.55" y1="691.1" x2="98.55" y2="692.6" stroke="#333" stroke-width="1.2"/>
<line x1="146.4" y1="691.1" x2="146.4" y2="692.9" stroke="#333" stroke-width="1.2"/>
<text x="146.4" y="703.8" text-anchor="middle" font-size="9.9" font-weight="bold" fill="#000" stroke="#000" stroke-width="0.15" textLength="20.35" lengthAdjust="spacingAndGlyphs">1000</text>
<line x1="193.75" y1="691.1" x2="193.75" y2="692.6" stroke="#333" stroke-width="1.2"/>
<line x1="241.1" y1="691.1" x2="241.1" y2="692.9" stroke="#333" stroke-width="1.2"/>
<text x="241.1" y="703.8" text-anchor="middle" font-size="9.9" font-weight="bold" fill="#000" stroke="#000" stroke-width="0.15" textLength="20.35" lengthAdjust="spacingAndGlyphs">2000</text>
<line x1="288.85" y1="691.1" x2="288.85" y2="692.6" stroke="#333" stroke-width="1.2"/>
<line x1="336.6" y1="691.1" x2="336.6" y2="692.9" stroke="#333" stroke-width="1.2"/>
<text x="336.6" y="703.8" text-anchor="middle" font-size="9.9" font-weight="bold" fill="#000" stroke="#000" stroke-width="0.15" textLength="20.35" lengthAdjust="spacingAndGlyphs">3000</text>
<text x="145.2" y="716.05" font-size="11.4" fill="#000" stroke="#000" stroke-width="0.12" textLength="93.6" lengthAdjust="spacingAndGlyphs">Nucleotide position</text>
<text transform="translate(9.1,659.8) rotate(-90)" font-size="11.3" fill="#000" stroke="#000" stroke-width="0.12">Nucleotide diversity(<tspan font-size="8" dx="2.9" dy="-1.5">π</tspan><tspan dx="2.9" dy="1.5">)</tspan></text>
<text x="-1.5" y="514" font-size="17.5" fill="#111">E</text>
<line x1="53.3" y1="530.3" x2="76.2" y2="530.3" stroke="#3c3cff" stroke-width="1.15"/>
<text x="79.1" y="533.8" font-size="11.15" fill="#000" stroke="#000" stroke-width="0.1">glaberrima</text>
<line x1="53.4" y1="558.45" x2="65.7" y2="558.45" stroke="#2e2e2e" stroke-width="1.05"/>
<line x1="70.4" y1="558.45" x2="76.5" y2="558.45" stroke="#2e2e2e" stroke-width="1.05"/>
<text x="79.1" y="561.95" font-size="11.15" fill="#000" stroke="#000" stroke-width="0.1">bathii</text>
<rect x="51.3" y="726.4" width="255.7" height="10.1" fill="url(#hatch)"/>
<line x1="307" y1="730.7" x2="331.5" y2="730.7" stroke="#000" stroke-width="2"/>
<rect x="317.3" y="726.2" width="3.5" height="10.5" fill="#858585"/>
<line x1="171.5" y1="726.4" x2="171.5" y2="736.5" stroke="#222" stroke-width="1"/>
<text x="116.9" y="733.7" text-anchor="middle" font-size="7.8" fill="#303030" textLength="14.3" lengthAdjust="spacingAndGlyphs">NBS</text>
<text x="238.05" y="733.7" text-anchor="middle" font-size="7.8" fill="#303030" textLength="13.9" lengthAdjust="spacingAndGlyphs">LRR</text>
<path d="M55.7,644.2 57.3,635.8 58.5,633.3 60.7,634.7 62.7,641.7 64.7,635.3 66.3,635.8 68.5,640 70.5,644.2 72.2,635.8 73.5,635.3 75.2,638 76,626.7 76.8,600 77.7,590.5 79.3,597.5 81.3,605.8 82.7,610 84.3,604.2 85.2,615 86,636.7 86.8,651.7 89,656.7 90.7,652.5 91.8,655 93.5,660 95.2,653.3 97.3,644.2 99.3,641.3 101,642 103,647.5 105.2,655 108,663 110.2,656.7 112.7,649.2 115.2,641.7 116.8,633.3 118.5,625 120.2,618.3 121.8,623.3 123.5,628.3 125.5,635 126.8,643.3 128,655 129.3,668.3 130.2,676.3 132.3,676.3 133.5,667.5 134.8,660 136.8,659.2 138.2,643.3 139.3,632.5 141.3,631.3 142.7,637.5 144.3,645 146.8,650.3 149,645 150.7,639.7 153.5,641.3 154.7,633.3 155.5,620 156.2,610.8 157,621.7 158.3,634.2 160,641.7 162.5,646.7 163.8,650 164.7,663.3 165.5,678.3 167.5,678.7 168.8,675.8 170.8,673 172.5,675.3 174.2,666.7 175.8,650 177,638.3 179.2,631.7 180.5,618.3 181.7,605 183.3,610 185,618.3 186.2,621.3 187.5,605 189.2,591.7 191.2,605.8 193.3,591.7 196.3,587.5 197.2,600 198.3,618.3 200,633.3 202.5,646.7 205,658.3 207.8,669.2 209.2,653.3 210.3,640 212.5,631.7 215,625 217.5,618.3 218.7,631.7 219.7,647 221.7,642 224.2,643.3 225.8,648.3 227,653.7 228.3,641.7 229.7,623.3 230.8,603.3 232,590.8 234.2,590 235.3,576.3 236.7,554.7 238,536.3 239.5,523.8 240.3,534.7 240.8,554.7 241.3,571.3 242,581.3 244.2,584.7 245.8,591.3 247,603 247.8,619.7 248.7,640.8 250,633 251.2,616.3 252,593 252.5,576.3 253.3,563.8 254.7,571.3 256.7,577.2 258.7,579.7 259.7,563 260.8,546.3 261.7,561.3 262.2,584.7 263,604.2 265,598 266.2,579.7 267.2,554.7 268,528 268.8,538 269.5,558 270.3,577.2 272.5,568 273.7,559.7 275,551.3 275.8,564.7 276.7,583 277.5,596.3 279.7,591.3 280.8,578 282,561.3 283,566.3 284.2,578 285.3,566.3 286.3,553 287.5,539.7 289.5,527.7 290.8,534.7 292.5,546.3 294.5,557.7 296.3,555.5 297.2,563 298,578 298.7,589.7 299.7,598 301.7,604.7 303.3,607.7 305.8,609.2 310.8,609.2 312,603.8 313.7,595.5 315.8,598 316.7,583 317.5,563 318.3,548.8 319.2,544.7 320.3,547.2" fill="none" stroke="#3c3cff" stroke-width="1.1" stroke-linejoin="round"/>
<path d="M55.2,688.3 67.3,688.3 69,680 69.4,676.5 M70,672 70.7,666.7 71.4,660.1 M72.2,655.2 72.7,653.3 76.8,653.3 78,658.3 78.8,665.2 M79.3,670.1 81,681.7 81.8,684.8 M82.7,688.3 89,688.3 90.2,680 90.5,676.4 M91.2,671.5 92.7,670.3 98.5,670.3 99.7,676.7 100.4,682.2 M101.3,687 102.7,688.3 112.7,688.3 114.3,681.7 116,680 121.8,679.7 125.2,677 141,677 142.3,681.7 144,687.7 145.7,688.3 152.7,688.3 154.3,683.3 156,677.5 157.7,676.7 159.3,670 160.8,665 163,664.7 164.2,668.3 165.3,675 167.5,678 168.7,678.3 170,686.7 171.7,688.3 173,683.3 174.2,677.5 181.7,677.2 183,683.3 184.2,688.3 200,688.3 201.3,685 203,680 210.8,680 212,685 213.3,688.3 234.2,688.3 235.8,683.3 237.8,675.8 239.7,670.8 244.2,670.5 245.8,676.7 247.5,685 248.8,688.3 258.3,688.3 260,683.3 262,675.8 263.7,670.8 268.3,670.5 270,676.7 271.7,685 273.3,688.3 306.7,688.3 308.3,685 310.8,680 313.3,679.2 314.7,675 316.3,670.5 318.3,670.5 319.7,675 321.2,678.7" fill="none" stroke="#2e2e2e" stroke-width="1.0" stroke-linejoin="round"/>
</svg></body></html>
